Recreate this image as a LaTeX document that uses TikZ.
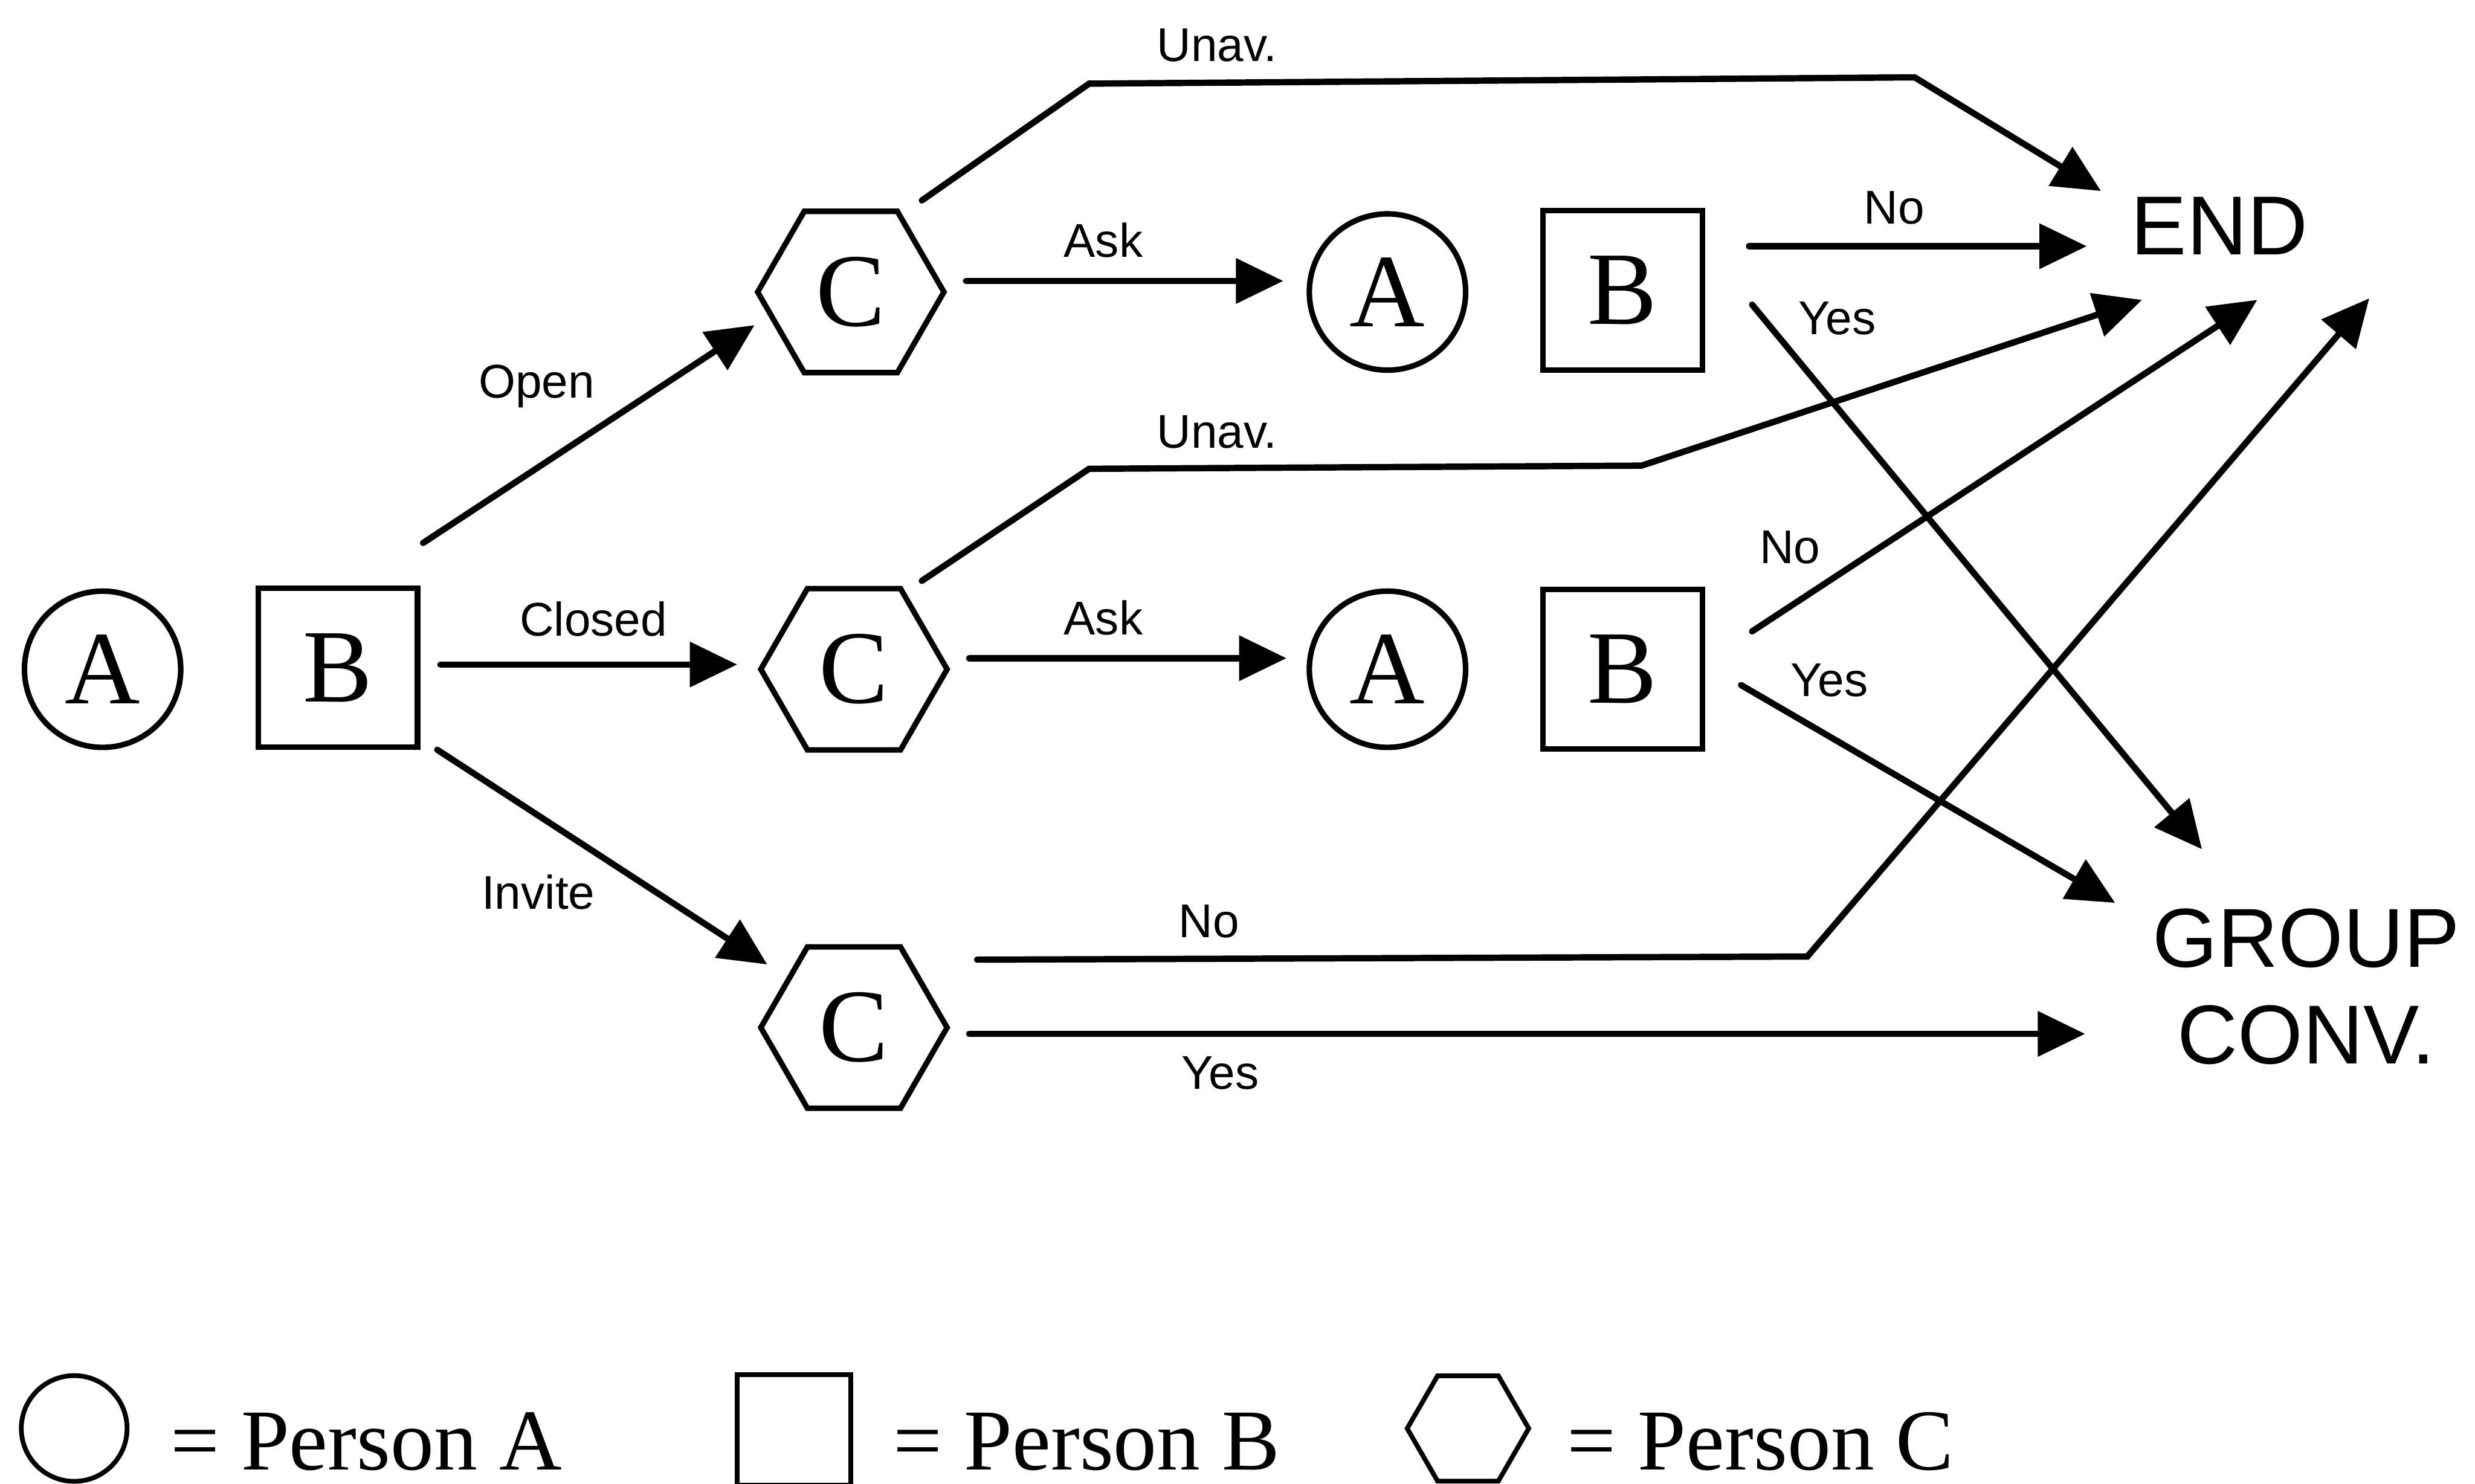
\documentclass[tikz,border=0pt]{standalone}
\usepackage{fontspec}
\setmainfont{Liberation Serif}
\newfontfamily\labfont{Liberation Sans}
\usetikzlibrary{arrows.meta,shapes.geometric,calc}

\begin{document}
\begin{tikzpicture}[x=1pt,y=-1pt,
  every node/.style={inner sep=0pt,outer sep=0pt},
  letter/.style={font=\fontsize{66}{66}\selectfont},
  pa/.style={circle,draw,line width=3.5pt,minimum size=99pt,letter},
  pb/.style={rectangle,draw,line width=3.5pt,minimum width=101pt,minimum height=101pt,letter},
  pc/.style={regular polygon,regular polygon sides=6,draw,line width=3.5pt,minimum size=118pt,letter},
  lbl/.style={font=\labfont\fontsize{30}{30}\selectfont,anchor=base},
  big/.style={font=\labfont\fontsize{53}{61}\selectfont,align=center},
  arr/.style={line width=4pt,line cap=round,line join=miter,-{Triangle[length=30pt,width=28pt]}},
  leg/.style={font=\fontsize{55}{55}\selectfont,anchor=base west}
]
\useasboundingbox (0,0) rectangle (1568,940);

% people in the conversation
\node[pa] (A0) at (65,424) {A};
\node[pb] (B0) at (214,423) {B};
\node[pc] (C1) at (539,185) {C};
\node[pa] (A1) at (879,185) {A};
\node[pb] (B1) at (1028,184) {B};
\node[pc] (C2) at (541,424) {C};
\node[pa] (A2) at (879,424) {A};
\node[pb] (B2) at (1028,424) {B};
\node[pc] (C3) at (541,651) {C};

% outcomes
\node[big] (END) at (1406,143) {END};
\node[big] (GC) at (1461,625) {GROUP\\CONV.};

% bend points of the long connectors
\coordinate (u1a) at (690,53);
\coordinate (u1b) at (1213,49);
\coordinate (u2a) at (690,297);
\coordinate (u2b) at (1040,295);
\coordinate (n3a) at (1145,606);

% first move of B
\draw[arr] ($(B0)+(54,-79)$) -- ($(C1)+(-61,21)$);
\draw[arr] ($(B0)+(65,-2)$) -- ($(C2)+(-74,-3)$);
\draw[arr] ($(B0)+(63,52)$) -- ($(C3)+(-55,-40)$);

% open branch
\draw[arr] ($(C1)+(45,-58)$) -- (u1a) -- (u1b) -- ($(END)+(-75,-22)$);
\draw[arr] ($(C1)+(73,-7)$) -- ($(A1)+(-66,-7)$);
\draw[arr] ($(B1)+(80,-28)$) -- ($(END)+(-84,13)$);
\draw[arr] ($(B1)+(82,9)$) -- ($(GC)+(-66,-87)$);

% closed branch
\draw[arr] ($(C2)+(43,-56)$) -- (u2a) -- (u2b) -- ($(END)+(-49,47)$);
\draw[arr] ($(C2)+(73,-7)$) -- ($(A2)+(-64,-7)$);
\draw[arr] ($(B2)+(82,-24)$) -- ($(END)+(24,47)$);
\draw[arr] ($(B2)+(75,10)$) -- ($(GC)+(-121,-53)$);

% invite branch
\draw[arr] ($(C3)+(78,-43)$) -- (n3a) -- ($(END)+(95,46)$);
\draw[arr] ($(C3)+(73,4)$) -- ($(GC)+(-140,30)$);

% connector labels
\node[lbl] (lOpen) at (340,252) {Open};
\node[lbl] (lClosed) at (376,403) {Closed};
\node[lbl] (lInvite) at (341,576) {Invite};
\node[lbl] (lUnav1) at (771,39) {Unav.};
\node[lbl] (lAsk1) at (699,163) {Ask};
\node[lbl] (lNo1) at (1200,142) {No};
\node[lbl] (lYes1) at (1164,212) {Yes};
\node[lbl] (lUnav2) at (771,284) {Unav.};
\node[lbl] (lAsk2) at (699,402) {Ask};
\node[lbl] (lNo2) at (1134,357) {No};
\node[lbl] (lYes2) at (1159,441) {Yes};
\node[lbl] (lNo3) at (766,594) {No};
\node[lbl] (lYes3) at (773,690) {Yes};

% legend
\node[pa,minimum size=67pt,line width=3pt] (LA) at (47,905) {};
\node[leg] (LAt) at (108,931) {= Person A};
\node[pb,minimum width=72pt,minimum height=70pt,line width=3pt] (LB) at (503,906) {};
\node[leg] (LBt) at (566,931) {= Person B};
\node[pc,minimum size=77pt,line width=3pt] (LC) at (930,905) {};
\node[leg] (LCt) at (993,931) {= Person C};
\end{tikzpicture}
\end{document}
